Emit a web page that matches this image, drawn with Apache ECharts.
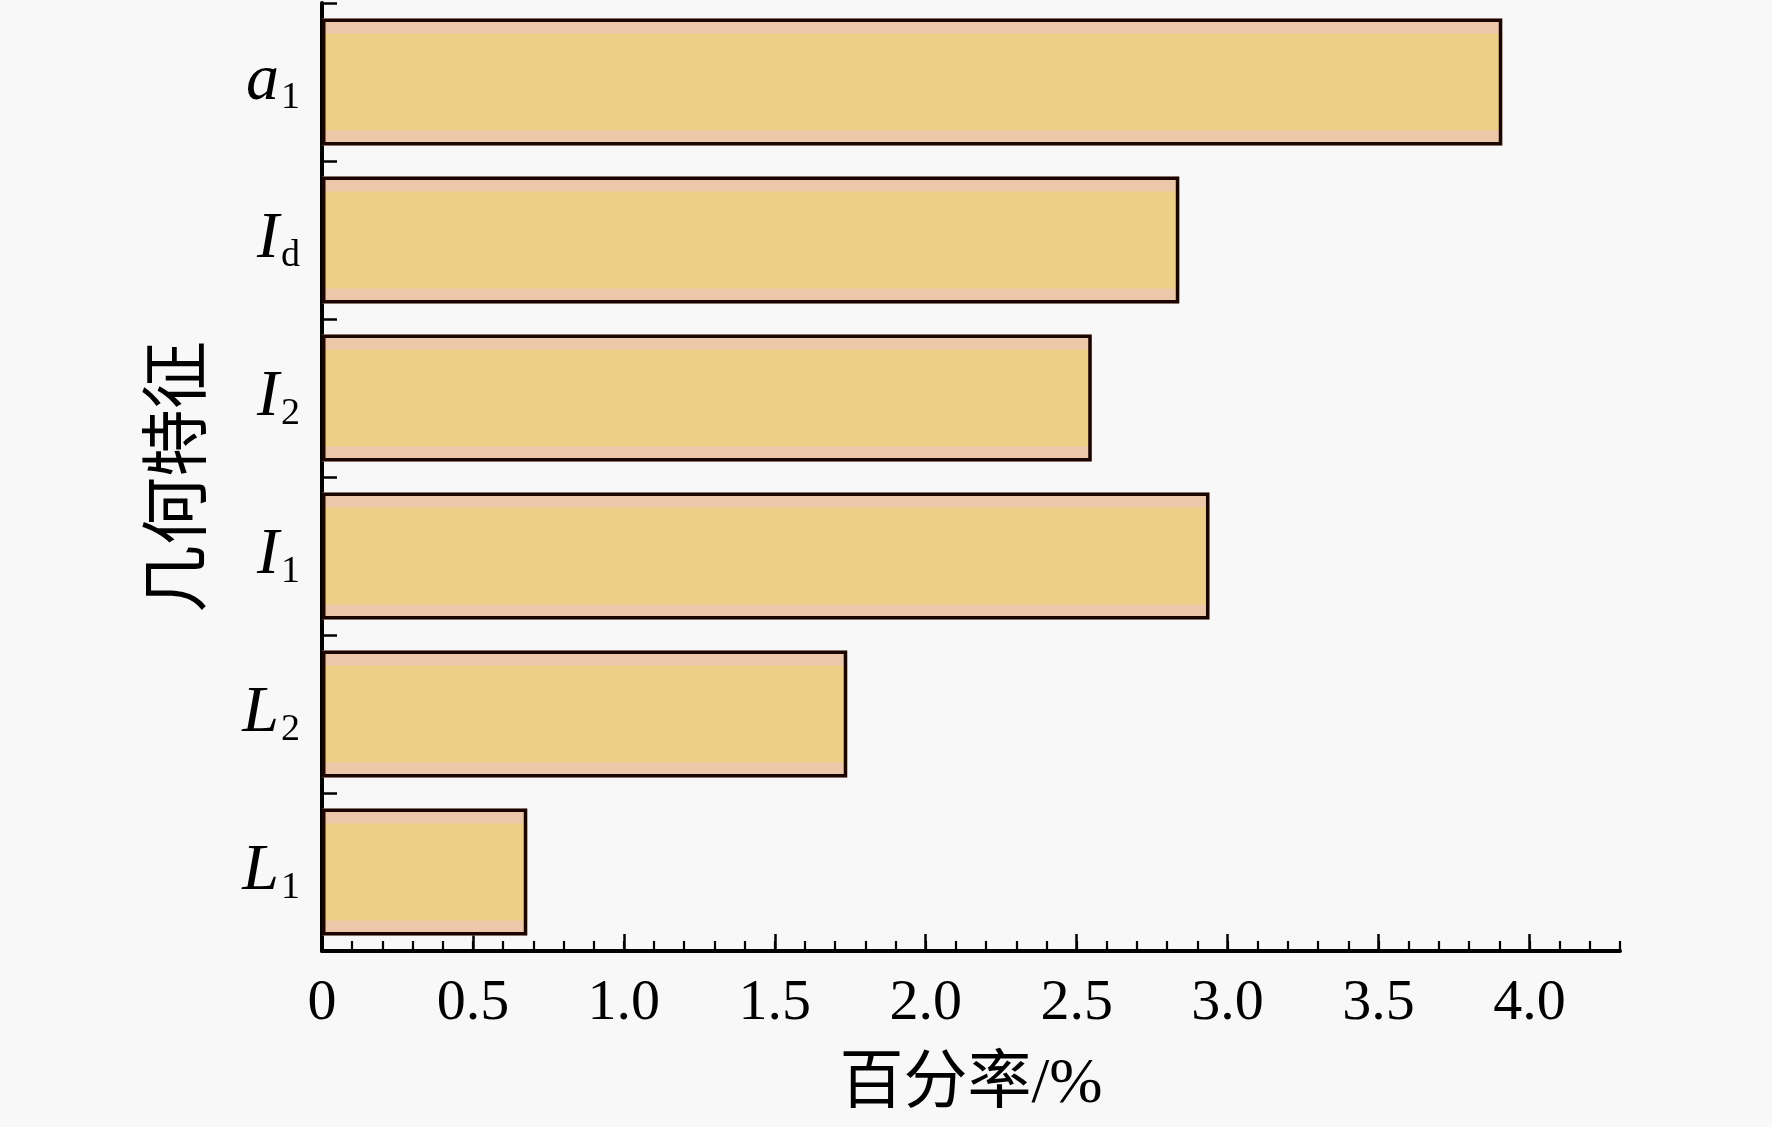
<!DOCTYPE html>
<html><head><meta charset="utf-8">
<script src="https://cdn.jsdelivr.net/npm/echarts@6/dist/echarts.min.js"></script>
<style>html,body{margin:0;padding:0;background:#f8f8f8;}#c{width:1772px;height:1127px;}</style>
</head><body><div id="c"></div>
<script>
// categories bottom -> top
var catMain = ['L', 'L', 'I', 'I', 'I', 'a'];
var catSub  = ['1', '2', '1', '2', 'd', '1'];
var categories = ['L1', 'L2', 'I1', 'I2', 'Id', 'a1'];
var values = [0.68, 1.74, 2.94, 2.55, 2.84, 3.91];
var xTickLabels = [0, 0.5, 1.0, 1.5, 2.0, 2.5, 3.0, 3.5, 4.0];
var xMax = 4.3;

var serif = '"Liberation Serif", "Times New Roman", "Noto Sans CJK SC", serif';
var chart = echarts.init(document.getElementById('c'), null, {renderer: 'canvas'});
chart.setOption({
  backgroundColor: '#f8f8f8',
  animation: false,
  grid: {left: 322, right: 152, top: 3, bottom: 176, containLabel: false},
  xAxis: [{
    type: 'value', min: 0, max: xMax, position: 'bottom',
    axisLine: {show: true, lineStyle: {color: '#000', width: 4}},
    axisTick: {show: true, inside: true, length: 17, customValues: xTickLabels, lineStyle: {color: '#000', width: 2.5}},
    axisLabel: {show: true, customValues: xTickLabels, margin: 24, color: '#000', fontSize: 58, fontFamily: serif,
      formatter: function (v) { return v === 0 ? '0' : v.toFixed(1); }},
    splitLine: {show: false},
    name: '百分率/%', nameLocation: 'middle', nameGap: 102,
    nameTextStyle: {color: '#000', fontSize: 64, fontFamily: serif}
  }, {
    type: 'value', min: 0, max: xMax, interval: 0.1, position: 'bottom', offset: 0,
    axisLine: {show: false},
    axisTick: {show: true, inside: true, length: 10, lineStyle: {color: '#000', width: 2.2}},
    axisLabel: {show: false},
    splitLine: {show: false}
  }],
  yAxis: [{
    type: 'category', data: categories,
    axisLine: {show: true, lineStyle: {color: '#000', width: 4}},
    axisTick: {show: true, inside: true, length: 15, lineStyle: {color: '#000', width: 2.5}},
    axisLabel: {
      margin: 22, color: '#000',
      formatter: function (v, idx) { return '{m|' + catMain[idx] + '}{s|' + catSub[idx] + '}'; },
      rich: {
        m: {fontSize: 66, fontStyle: 'italic', fontFamily: serif, color: '#000', lineHeight: 70},
        s: {fontSize: 38, fontFamily: serif, color: '#000', lineHeight: 38, verticalAlign: 'bottom', padding: [0, 0, 0, 2]}
      }
    },
    name: '几何特征', nameLocation: 'middle', nameGap: 106, nameRotate: 90,
    nameTextStyle: {color: '#000', fontSize: 68, fontFamily: serif}
  }, {
    type: 'category', data: categories, show: false,
    axisLine: {show: false}, axisTick: {show: false}, axisLabel: {show: false}
  }],
  series: [{
    type: 'bar', data: values, yAxisIndex: 0, xAxisIndex: 0, barWidth: 127, barGap: '-100%', z: 2,
    itemStyle: {color: '#ecc7a9', borderWidth: 0}
  }, {
    type: 'bar', data: values, yAxisIndex: 1, xAxisIndex: 0, barWidth: 97, z: 3,
    itemStyle: {color: '#edcf85', borderWidth: 0}
  }, {
    type: 'bar', data: values, yAxisIndex: 0, xAxisIndex: 0, barWidth: 127, barGap: '-100%', z: 4,
    itemStyle: {color: 'rgba(0,0,0,0)', borderColor: '#1a0500', borderWidth: 3.5}
  }]
});
</script></body></html>
